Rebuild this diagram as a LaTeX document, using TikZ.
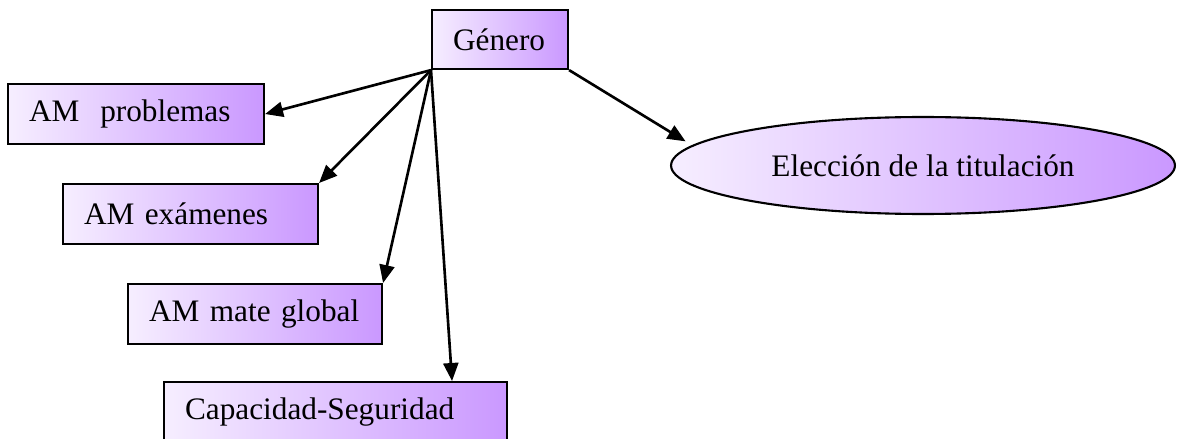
\documentclass[tikz,border=0pt]{standalone}
\usepackage{fontspec}
\setmainfont{Liberation Serif}
\usepackage{tikz}
\usetikzlibrary{arrows.meta}
\usetikzlibrary{shapes.geometric}
\pgfdeclarelayer{edgelayer}
\pgfdeclarelayer{nodelayer}
\pgfsetlayers{edgelayer,nodelayer,main}
\definecolor{lilaclaro}{RGB}{246,238,255}
\definecolor{lilaoscuro}{RGB}{202,152,255}
\tikzstyle{caja}=[rectangle,draw=black,line width=1.2pt,left color=lilaclaro,right color=lilaoscuro,anchor=north west,align=left,inner xsep=0.42cm,minimum height=1.2cm,font=\fontsize{17.8}{21}\selectfont]
\tikzstyle{elipse}=[ellipse,draw=black,line width=1.2pt,left color=lilaclaro,right color=lilaoscuro,inner sep=0pt,minimum width=10.08cm,minimum height=1.94cm,font=\fontsize{17.8}{21}\selectfont]
\tikzstyle{flecha}=[-{Triangle[length=0.36cm,width=0.3cm]},draw=black,line width=1.5pt]

\begin{document}
\begin{tikzpicture}[x=0.02cm,y=-0.02cm]
	\useasboundingbox (0,0) rectangle (1177,439);
	\begin{pgfonlayer}{nodelayer}
		\node [style=caja,text width=1.88cm,minimum height=1.18cm] (genero) at (431, 9) {Género};
		\node [style=caja,text width=4.28cm] (amprob) at (7, 83) {AM\ \ problemas};
		\node [style=caja,text width=4.26cm] (amexam) at (62, 183) {AM exámenes};
		\node [style=caja,text width=4.24cm] (ammate) at (127, 283) {AM mate global};
		\node [style=caja,text width=6.02cm] (capseg) at (163, 381) {Capacidad-Seguridad};
		\node [style=elipse] (titulo) at (923, 165.5) {Elección de la titulación};
	\end{pgfonlayer}
	\begin{pgfonlayer}{edgelayer}
		\draw [style=flecha] (genero.south west) to (amprob.east);
		\draw [style=flecha] (genero.south west) to (amexam.north east);
		\draw [style=flecha] (genero.south west) to (ammate.north east);
		\draw [style=flecha] (genero.south west) to ([xshift=-1.12cm]capseg.north east);
		\draw [style=flecha,shorten >=0.15cm] (genero.south east) to (titulo.175.6);
	\end{pgfonlayer}
\end{tikzpicture}
\end{document}
